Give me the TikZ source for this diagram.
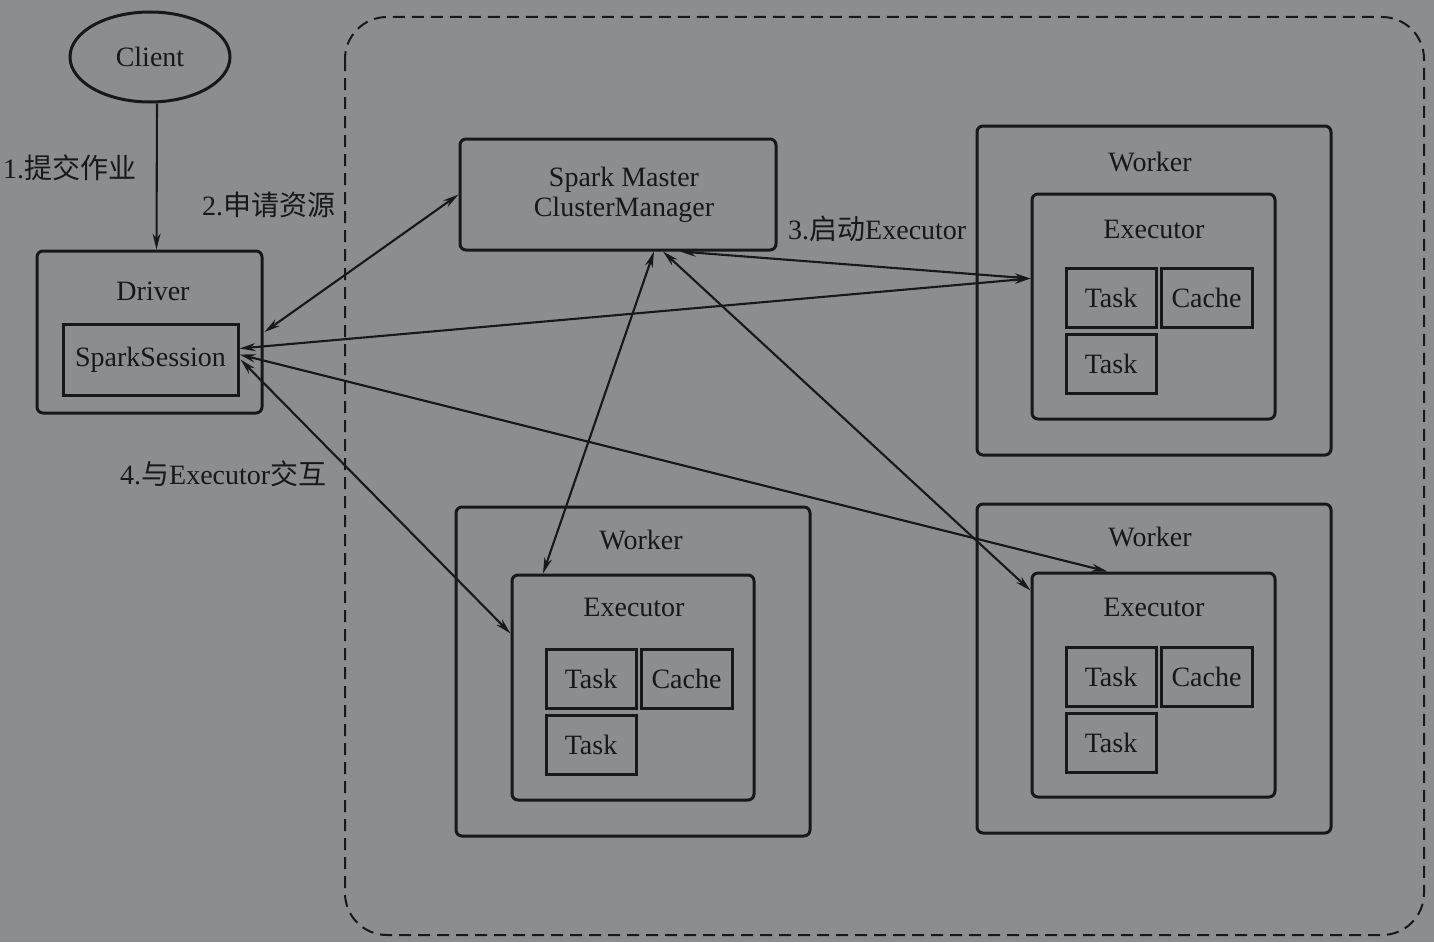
\documentclass[tikz,border=0pt]{standalone}
\usepackage{fontspec}
\setmainfont{Liberation Serif}
\newfontfamily\cjk{Noto Sans CJK SC}
\usetikzlibrary{arrows.meta,shapes.geometric}
\definecolor{bggray}{HTML}{8C8D8F}
\definecolor{ink}{HTML}{181818}

\tikzset{
  every node/.style={text=ink, font=\fontsize{28}{31}\selectfont},
  box/.style={draw=ink, line width=3pt, rounded corners=6pt, inner sep=0pt},
  cell/.style={draw=ink, line width=3pt, inner sep=0pt, minimum width=90pt, minimum height=59pt},
  link/.style={draw=ink, line width=2.1pt, -{Stealth[length=16pt,width=8pt]}},
  biarrow/.style={link, {Stealth[length=16pt,width=8pt]}-{Stealth[length=16pt,width=8pt]}},
  tag/.style={anchor=west, inner sep=0pt}
}

\begin{document}
\begin{tikzpicture}[x=1pt, y=-1pt]
\fill[bggray] (0,0) rectangle (1434,942);
\useasboundingbox (0,0) rectangle (1434,942);
%cluster
\draw[ink, line width=2pt, dash pattern=on 12pt off 7pt, rounded corners=42pt] (345,17) rectangle (1424,935);
%client and driver
\node[draw=ink, line width=3pt, ellipse, minimum width=160pt, minimum height=90pt, inner sep=0pt] (client) at (150,57) {Client};
\node[box, minimum width=225pt, minimum height=162pt] (drv) at (149.5,332) {};
\node (drvt) at (153,291) {Driver};
\node[cell, minimum width=175pt, minimum height=71pt] (ss) at (150.5,359.5) {SparkSession};
%master
\node[box, minimum width=316pt, minimum height=111pt] (master) at (618,194.5) {};
\node[align=center] (mastert) at (624,195) {Spark Master\\[-1pt]ClusterManager};
%worker 1
\node[box, minimum width=354pt, minimum height=329pt] (w1) at (1154,290.5) {};
\node (w1t) at (1150,162) {Worker};
\node[box, minimum width=243pt, minimum height=225pt] (e1) at (1153.5,306.5) {};
\node (e1t) at (1154,229) {Executor};
\node[cell] (e1a) at (1111,297.5) {Task};
\node[cell, minimum width=91pt] (e1c) at (1206.5,297.5) {Cache};
\node[cell] (e1b) at (1111,363.5) {Task};
%worker 2
\node[box, minimum width=354pt, minimum height=329pt] (w2) at (633,671.5) {};
\node (w2t) at (641,540) {Worker};
\node[box, minimum width=242pt, minimum height=225pt] (e2) at (633,687.5) {};
\node (e2t) at (634,607) {Executor};
\node[cell] (e2a) at (591,678.5) {Task};
\node[cell, minimum width=91pt] (e2c) at (686.5,678.5) {Cache};
\node[cell] (e2b) at (591,744.5) {Task};
%worker 3
\node[box, minimum width=354pt, minimum height=329pt] (w3) at (1154,668.5) {};
\node (w3t) at (1150,537) {Worker};
\node[box, minimum width=243pt, minimum height=224pt] (e3) at (1153.5,685) {};
\node (e3t) at (1154,607) {Executor};
\node[cell] (e3a) at (1111,676.5) {Task};
\node[cell, minimum width=91pt] (e3c) at (1206.5,676.5) {Cache};
\node[cell] (e3b) at (1111,742.5) {Task};
%labels
\node[tag] (l1) at (3,168) {1.\cjk 提交作业};
\node[tag] (l2) at (202,205) {2.\cjk 申请资源};
\node[tag] (l3) at (788,229) {3.{\cjk 启动}Executor};
\node[tag] (l4) at (120,474) {4.{\cjk 与}Executor{\cjk 交互}};
%arrows
\draw[link] ([xshift=7pt]client.south) -- ([xshift=7pt]drv.north);
\draw[biarrow] ([xshift=1pt]drv.east) -- (master.west);
\draw[biarrow] ([xshift=62pt]master.south) -- ([yshift=-86pt]e1.north west);
\draw[biarrow] ([yshift=11pt]ss.east) -- ([yshift=-86pt]e1.north west);
\draw[biarrow] ([xshift=36pt]master.south) -- ([xshift=-90pt]e2.north);
\draw[biarrow] ([xshift=45pt]master.south) -- ([yshift=-19pt]e3.north west);
\draw[biarrow] ([yshift=5pt]ss.east) -- ([xshift=-46pt]e3.north);
\draw[biarrow] ([xshift=1pt]ss.east) -- ([yshift=54pt]e2.west);
\end{tikzpicture}
\end{document}
